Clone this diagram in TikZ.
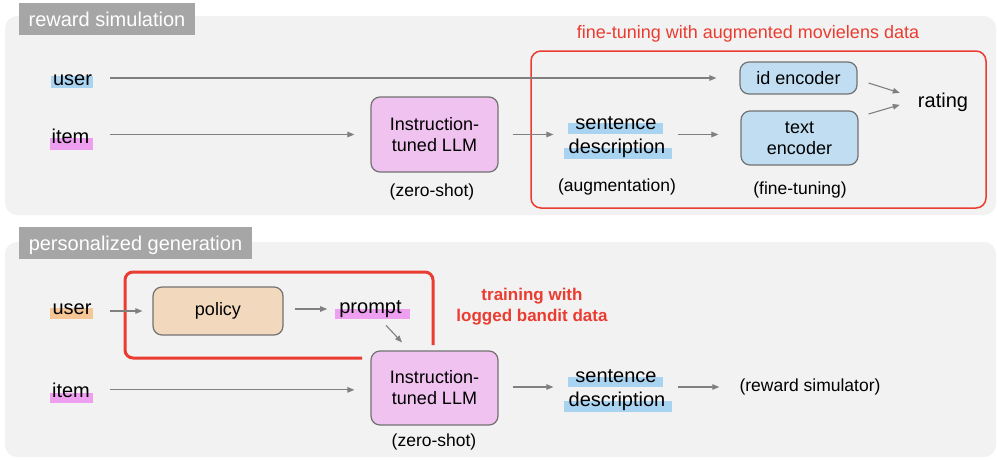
\documentclass[tikz,border=0pt]{standalone}
\usepackage{fontspec}
\setmainfont{Liberation Sans}
\usetikzlibrary{arrows.meta,calc}
\definecolor{panelc}{HTML}{F2F2F2}
\definecolor{tabc}{HTML}{A6A6A6}
\definecolor{boxline}{HTML}{727272}
\definecolor{llmfill}{HTML}{EFC2EF}
\definecolor{encfill}{HTML}{C0DDF1}
\definecolor{polfill}{HTML}{F2D9BD}
\definecolor{hlblue}{HTML}{A8D4F1}
\definecolor{hlpink}{HTML}{EE9FF0}
\definecolor{hlorange}{HTML}{F5C797}
\definecolor{redc}{HTML}{EA3C30}
\definecolor{arrgray}{HTML}{808080}
\begin{document}
\begin{tikzpicture}[x=1pt,y=-1pt,
  lbl/.style={inner sep=0pt, anchor=base, font=\fontsize{20}{24}\selectfont},
  paren/.style={inner sep=0pt, anchor=base, font=\fontsize{17.5}{21}\selectfont},
  boxbase/.style={draw=boxline, line width=1.2pt, rounded corners=9pt, inner sep=0pt, align=center, font=\fontsize{18}{21}\selectfont},
  llmbox/.style={boxbase, fill=llmfill, minimum width=127pt, minimum height=75pt},
  encbox/.style={boxbase, fill=encfill, minimum width=117pt},
  polbox/.style={boxbase, fill=polfill, minimum width=130pt, minimum height=48pt},
  arr/.style={draw=arrgray, line width=1.1pt, -{Triangle[length=7pt,width=5.5pt]}},
  tabbox/.style={fill=tabc, text=white, inner sep=0pt, font=\fontsize{20}{24}\selectfont, text height=14pt, text depth=0pt, minimum height=32pt},
  panelbox/.style={fill=panelc, rounded corners=12pt},
  redlbl/.style={text=redc, inner sep=0pt},
]
\useasboundingbox (0,0) rectangle (997,459);

% panels
\fill[panelbox] (5,16) rectangle (996,215);
\fill[panelbox] (5,242) rectangle (996,457);
\node[tabbox, minimum width=176pt] (tab1) at (107,19) {reward simulation};
\node[tabbox, minimum width=233pt] (tab2) at (135.5,243) {personalized generation};

% highlights
\fill[hlblue] (51,76) rectangle (93,88);
\fill[hlpink] (50,138) rectangle (93,150);
\fill[hlblue] (568,123) rectangle (663,134);
\fill[hlblue] (564,148) rectangle (672,159);
\fill[hlorange] (50,308) rectangle (93,319);
\fill[hlpink] (50,393) rectangle (93,403);
\fill[hlpink] (335,309) rectangle (410,319);
\fill[hlblue] (568,377) rectangle (663,387);
\fill[hlblue] (564,401) rectangle (672,412);

% top panel
\node[lbl] (user1) at (72.5,85) {user};
\node[lbl] (item1) at (70.5,143) {item};
\node[llmbox] (llm1) at (434.5,134.5) {Instruction-\\tuned LLM};
\node[paren] (zs1) at (432,196) {(zero-shot)};
\node[lbl] (sent1a) at (616,129) {sentence};
\node[lbl] (sent1b) at (617,153) {description};
\node[paren] (aug) at (617,191) {(augmentation)};
\node[encbox, minimum height=32pt] (idenc) at (798.5,78) {id encoder};
\node[encbox, minimum height=54pt] (textenc) at (799.5,138) {text\\encoder};
\node[paren] (ft) at (800,194) {(fine-tuning)};
\node[lbl] (rating) at (943,107) {rating};
\node[redlbl, anchor=base, font=\fontsize{18}{22}\selectfont] (redtop) at (748,38) {fine-tuning with augmented movielens data};
\draw[redc, line width=1.5pt, rounded corners=10pt] (531,51) rectangle (986,208);

\draw[arr] ($(user1.east |- idenc.west)+(18,0)$) -- ($(idenc.west)+(-23,0)$);
\draw[arr] ($(item1.east |- llm1.west)+(20,0)$) -- ($(llm1.west)+(-16,0)$);
\draw[arr] ($(llm1.east)+(14,0)$) -- ($(llm1.east -| sent1b.west)+(-15,0)$);
\draw[arr] ($(sent1b.east |- llm1.east)+(12,0)$) -- ($(textenc.west |- llm1.east)+(-22,0)$);
\draw[arr] ($(idenc.east)+(11,5)$) -- ($(rating.west)+(-18,-9)$);
\draw[arr] ($(textenc.east)+(10,-24)$) -- ($(rating.west)+(-18,3)$);

% bottom panel
\node[lbl] (user2) at (72,314) {user};
\node[lbl] (item2) at (71,397) {item};
\node[polbox] (policy) at (218,311) {policy};
\node[lbl] (prompt) at (370.5,313) {prompt};
\node[llmbox, minimum height=74pt] (llm2) at (434.5,388) {Instruction-\\tuned LLM};
\node[paren] (zs2) at (434,446) {(zero-shot)};
\node[lbl] (sent2a) at (616,382) {sentence};
\node[lbl] (sent2b) at (617,406) {description};
\node[paren] (reward) at (810,391) {(reward simulator)};
\node[redlbl, align=center, font=\bfseries\fontsize{17}{21}\selectfont] (redbot) at (532,307) {training with\\logged bandit data};
\draw[redc, line width=3pt, rounded corners=8pt] (362,358) -- (125,358) -- (125,272) -- (433,272) -- (433,345);

\draw[arr] ($(user2.east |- policy.west)+(18,0)$) -- ($(policy.west)+(-10,0)$);
\draw[arr] ($(policy.east)+(11,-2)$) -- ($(prompt.west |- policy.east)+(-12,-2)$);
\draw[arr] ($(prompt.south)+(15.5,8)$) -- ($(llm2.north)+(-32.5,-8)$);
\draw[arr] ($(item2.east)+(20,0)$) -- ($(item2.east -| llm2.west)+(-16,0)$);
\draw[arr] ($(llm2.east)+(14,-1)$) -- ($(llm2.east -| sent2b.west)+(-15,-1)$);
\draw[arr] ($(sent2b.east |- llm2.east)+(12,-1)$) -- ($(reward.west |- llm2.east)+(-20,-1)$);
\end{tikzpicture}
\end{document}
